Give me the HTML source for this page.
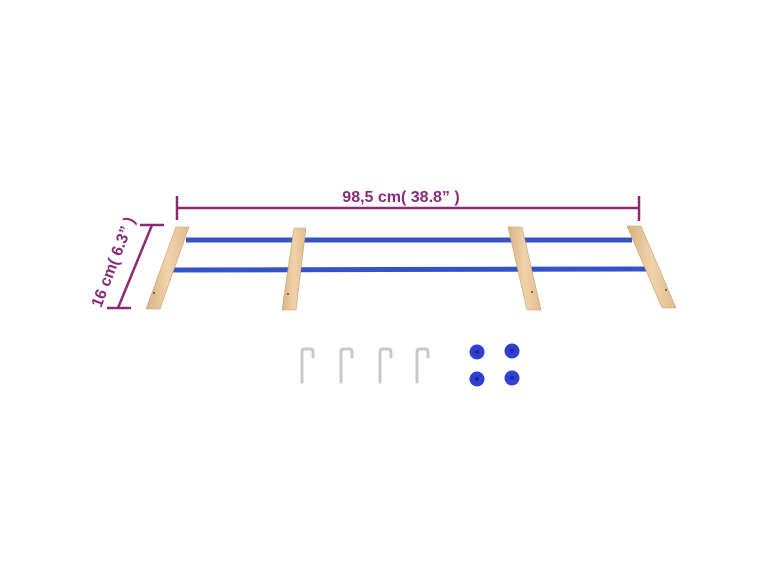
<!DOCTYPE html>
<html><head><meta charset="utf-8"><style>
html,body{margin:0;padding:0;background:#fff;width:770px;height:578px;overflow:hidden}
svg{display:block}
text{font-family:"Liberation Sans",sans-serif;font-weight:bold;fill:#8a2a78}
</style></head><body>
<svg width="770" height="578" viewBox="0 0 770 578">
<defs>
<linearGradient id="w" x1="0" y1="0" x2="1" y2="0">
<stop offset="0" stop-color="#d9b284"/><stop offset="0.5" stop-color="#f0d2aa"/><stop offset="1" stop-color="#e2bd8f"/>
</linearGradient>
</defs>
<path d="M186 240 L632 240" stroke="#3553c6" stroke-width="5" fill="none"/>
<path d="M170 270 L646 269" stroke="#3553c6" stroke-width="5" fill="none"/>
<polygon points="176,227 189,227 160,309 146,309" fill="url(#w)" stroke="#c9a070" stroke-width="0.6"/>
<polygon points="294,228 306,228 296,310 282,310" fill="url(#w)" stroke="#c9a070" stroke-width="0.6"/>
<polygon points="508,227 522,227 541,310 527,310" fill="url(#w)" stroke="#c9a070" stroke-width="0.6"/>
<polygon points="627,226 641,226 676,308 662,308" fill="url(#w)" stroke="#c9a070" stroke-width="0.6"/>
<circle cx="154" cy="293" r="1" fill="#6a4a30"/>
<circle cx="288" cy="294" r="1" fill="#6a4a30"/>
<circle cx="532" cy="292" r="1" fill="#6a4a30"/>
<circle cx="666" cy="290" r="1" fill="#6a4a30"/>
<g stroke="#8a2a78" stroke-width="2.5" fill="none">
<line x1="177" y1="208" x2="639" y2="208"/>
<line x1="177" y1="196" x2="177" y2="220"/>
<line x1="639" y1="196" x2="639" y2="221"/>
<line x1="152" y1="225" x2="118" y2="308"/>
<line x1="140" y1="225" x2="164" y2="225"/>
<line x1="107" y1="308" x2="131" y2="308"/>
</g>
<text x="401" y="202" font-size="16" text-anchor="middle">98,5 cm( 38.8”  )</text>
<text transform="translate(118,264) rotate(-69)" font-size="16" text-anchor="middle">16 cm( 6.3”  )</text>
<g stroke="#c8c8c8" stroke-width="3" fill="none" stroke-linecap="round">
<path d="M302 382 V352 Q302 349 305 349 H310 Q313 349 313 352 V357"/>
<path d="M341 382 V352 Q341 349 344 349 H349 Q352 349 352 352 V357"/>
<path d="M380 382 V352 Q380 349 383 349 H388 Q391 349 391 352 V357"/>
<path d="M417 382 V352 Q417 349 420 349 H425 Q428 349 428 352 V357"/>
</g>
<g fill="#2f3fd0">
<circle cx="477" cy="352" r="7.5"/><circle cx="512" cy="351" r="7.5"/>
<circle cx="477" cy="379" r="7.5"/><circle cx="512" cy="378" r="7.5"/>
</g>
<g fill="#1a28a0">
<circle cx="477" cy="352" r="2"/><circle cx="512" cy="351" r="2"/>
<circle cx="477" cy="379" r="2"/><circle cx="512" cy="378" r="2"/>
</g>
</svg>
</body></html>
